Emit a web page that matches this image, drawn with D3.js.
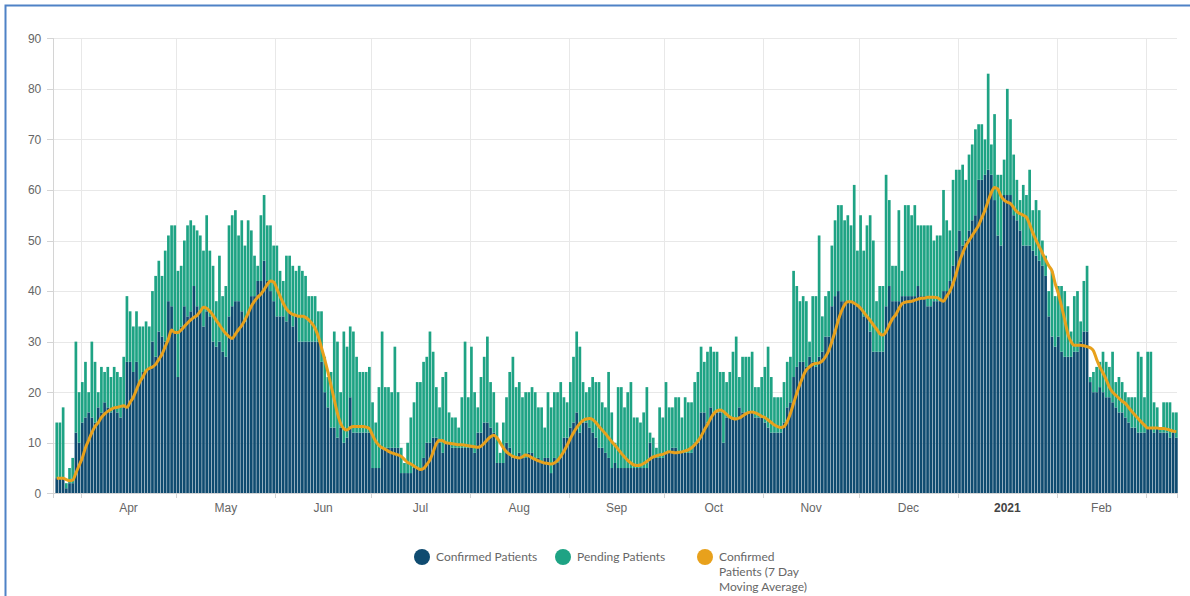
<!DOCTYPE html>
<html>
<head>
<meta charset="utf-8">
<script src="https://cdnjs.cloudflare.com/ajax/libs/d3/7.8.5/d3.min.js"></script>
<style>
  body { margin: 0; background: #fff; }
  svg { display: block; font-family: Lato, "Open Sans", sans-serif; }
  .grid line { stroke: #e8e8e8; shape-rendering: crispEdges; }
  .grid .domain { display: none; }
  .axis text { fill: #666; font-size: 12px; }
  .axis line, .axis path { stroke: #d4d4d4; shape-rendering: crispEdges; }
  .legend text { fill: #666; font-size: 12px; }
</style>
</head>
<body>
<div id="chart"></div>
<script>
// daily values, first day is 24 Mar 2020, one entry per day (one line per month)
const firstDay = new Date(2020, 2, 24);

const confirmed = [
  3,3,3,1,2,2,12,10,
  14,15,16,15,14,17,16,18,17,16,17,16,15,17,26,26,24,26,22,24,24,25,30,27,32,31,30,38,37,32,
  23,33,37,35,36,41,37,36,33,36,35,30,29,30,28,27,35,37,38,38,36,34,36,39,39,42,42,46,42,40,38,
  35,35,35,34,36,33,35,30,30,30,30,30,30,30,26,20,17,13,13,11,13,10,11,19,12,12,12,12,12,12,
  5,5,5,9,9,9,9,9,9,4,4,4,4,5,5,5,7,10,10,11,11,10,8,10,10,9,9,9,9,9,9,
  9,8,12,12,14,14,13,12,6,6,6,10,9,7,7,8,7,7,8,8,7,7,6,7,7,4,7,6,7,11,11,
  13,14,16,12,14,14,13,12,11,9,9,8,7,5,6,5,5,5,5,5,5,5,5,5,5,10,7,7,7,7,
  8,8,9,9,8,8,8,8,8,10,10,16,16,14,17,16,16,16,10,15,15,15,15,17,16,16,16,16,15,15,15,
  14,13,12,12,12,12,14,17,18,23,25,26,26,25,27,26,25,27,28,31,31,37,39,40,38,38,38,38,38,37,
  37,35,35,32,28,28,28,28,37,41,38,38,38,39,39,39,39,39,41,39,39,37,37,38,38,38,40,40,42,45,48,
  52,49,50,52,54,55,62,62,63,64,63,58,51,49,59,59,59,55,54,52,49,49,49,48,47,46,45,43,35,31,29,
  31,28,27,27,27,28,28,30,32,32,22,20,20,21,20,19,19,18,17,16,16,15,14,13,13,12,12,12,
  13,13,12,13,12,12,12,11,12,11
];

const pending = [
  11,11,14,1,3,5,18,10,
  8,11,4,15,12,3,9,6,8,7,8,8,8,10,13,10,9,10,11,9,10,8,10,16,14,12,18,13,16,21,
  21,12,13,18,18,12,15,15,15,19,13,15,9,17,11,14,18,18,18,13,18,15,18,13,8,3,13,13,11,13,11,
  14,9,7,13,11,12,9,15,14,13,9,9,9,6,10,7,6,11,19,19,7,22,18,14,20,15,12,12,12,13,
  13,9,16,23,12,12,11,20,11,5,2,6,11,13,17,17,19,17,22,17,10,7,15,14,6,6,6,4,10,21,10,
  20,12,5,11,13,17,9,8,8,2,8,9,15,20,14,14,12,13,12,13,13,10,11,6,13,13,13,14,15,8,7,
  9,13,16,17,8,6,8,11,11,13,9,9,17,11,4,16,16,12,15,17,10,10,9,11,16,2,4,2,10,8,
  14,9,8,10,11,7,11,10,10,12,14,13,10,14,12,12,12,8,14,7,9,13,16,6,11,11,11,12,6,6,8,
  11,16,11,7,7,7,8,9,9,21,16,12,13,13,3,13,14,24,7,8,9,12,15,17,19,16,17,15,23,11,
  18,13,18,23,22,10,13,13,26,17,7,7,18,5,18,18,16,18,12,14,14,16,16,12,13,13,20,14,10,17,16,
  12,16,12,15,15,17,11,11,7,19,6,17,12,14,7,21,15,12,8,6,12,10,15,8,11,10,5,4,5,13,10,
  10,13,13,10,5,11,12,4,10,13,1,4,5,5,8,7,6,10,5,7,6,5,5,6,6,16,15,7,
  15,15,6,4,1,6,6,7,4,5
];

const movingAverage = [
  3,3,3,2.7,2.5,2.6,4,5.5,
  7,9,10.5,12,13.2,14,15,15.7,16.2,16.6,16.9,17,17.2,17.3,17,18,19,20.5,22,23,24.2,24.7,25,25.5,26.5,27.5,29,30.5,32.3,31.8,
  31.8,32.3,33,33.7,34.3,34.8,35.2,36,36.8,36.6,36,35.2,34.2,33.3,32.4,31.6,31,30.6,31.5,32.4,33.2,34.3,35.6,37,38,38.8,39.4,40.3,41.3,42,41.8,
  40.5,39,37.6,36.5,35.8,35.4,35.2,35,35,34.8,34.3,33.6,32.6,31,28.8,26.5,24,21.3,18.5,15.8,13.8,12.8,12.5,13,13.2,13.2,13.2,13.2,13.1,12.8,
  11.5,10.3,9.5,9,8.7,8.3,8,7.8,7.6,7.3,6.7,6.1,5.8,5.4,5,4.7,4.9,5.7,6.6,8.2,9.8,10.5,10.4,10,9.9,9.8,9.7,9.6,9.6,9.5,9.4,
  9.3,9.2,9.1,9.3,9.9,10.6,11.2,11.5,11,10,9,8.2,7.7,7.3,7.1,7,7.2,7.6,7.4,7,6.7,6.4,6.2,6,5.9,5.8,6,6.5,7.3,8.3,9.5,
  10.8,12,13,13.8,14.4,14.7,14.8,14.6,14,13.2,12.5,11.8,11,10.2,9.5,8.7,7.9,7.2,6.5,6,5.6,5.5,5.6,5.9,6.3,6.8,7.2,7.4,7.6,7.7,
  8,8.2,8.1,8,8.1,8.2,8.4,8.6,9,9.6,10.3,11.3,12.5,13.6,14.8,15.8,16.3,16.5,16.2,15.6,15.1,14.8,14.7,14.9,15.3,15.7,16,16.1,15.9,15.6,15.2,
  15,14.5,14,13.5,13.2,13,13.2,14.2,15.8,17.8,19.8,21.6,23.2,24.4,25,25.5,25.7,25.8,26.2,27,28.2,30,32,34.2,36,37.3,37.9,37.9,37.6,37.2,
  36.6,35.8,35,34.2,33.3,32.5,31.6,31.3,32,33.3,34.5,35.3,36.5,37.5,37.8,37.9,38,38.2,38.4,38.6,38.6,38.8,38.8,38.8,38.7,38.3,38,39,40,41.5,43.5,
  45.8,47.5,49,50,51,52,53,54.5,56,57.8,59.5,60.5,60.2,58.8,58,57.6,57.3,56.5,55.7,55.3,55,54.6,53.2,51.5,50.1,48.8,47.5,46.2,45,44,41.5,
  39.5,37,34.3,31.5,30,29.3,29.3,29.3,29.2,29,28.8,28.2,26.5,25,23.8,22.5,21,20,19.4,18.8,18.2,17.8,17,16.2,15.5,14.8,14.1,13.5,
  12.9,12.9,12.9,12.9,12.8,12.8,12.7,12.5,12.3,12.2
];

const yTicks = [0, 10, 20, 30, 40, 50, 60, 70, 80, 90];
const seriesNames = ["Confirmed Patients", "Pending Patients", "Confirmed Patients (7 Day Moving Average)"];

const colors = { confirmed: "#0f4b70", pending: "#1ea384", average: "#e8a11c" };

const width = 1190, height = 596;
const plot = { left: 53.3, right: 1177.3, top: 38.3, bottom: 493.3 };

const days = d3.timeDay.range(firstDay, d3.timeDay.offset(firstDay, confirmed.length));
const rows = days.map((d, i) => ({ date: d, confirmed: confirmed[i], pending: pending[i], avg: movingAverage[i] }));

const svg = d3.select("#chart").append("svg")
    .attr("width", width).attr("height", height);

svg.append("rect").attr("width", width).attr("height", height).attr("fill", "#fff");

// dashboard frame (only the top and left edges are in view)
svg.append("path")
    .attr("d", "M5.5," + height + "V5.5H" + width)
    .attr("fill", "none").attr("stroke", "#4f82c6").attr("stroke-width", 2);

let x = d3.scaleTime()
    .domain([d3.timeHour.offset(firstDay, -14), d3.timeHour.offset(days[days.length - 1], 19)])
    .range([plot.left, plot.right]);
let y = d3.scaleLinear().domain([0, 90]).range([plot.bottom, plot.top]);

let monthStarts = d3.timeMonth.range(d3.timeMonth.ceil(x.domain()[0]), x.domain()[1]);

// horizontal grid
svg.append("g")
    .attr("class", "grid")
    .attr("transform", "translate(" + plot.left + ",0)")
    .call(d3.axisLeft(y).tickValues(yTicks).tickSize(-(plot.right - plot.left)).tickFormat(""));

// vertical grid at month starts
svg.append("g")
    .attr("class", "grid")
    .selectAll("line")
    .data(monthStarts)
    .enter().append("line")
    .attr("x1", d => Math.round(x(d)) + 0.5).attr("x2", d => Math.round(x(d)) + 0.5)
    .attr("y1", plot.top).attr("y2", plot.bottom);

// stacked bars
let stack = d3.stack().keys(["confirmed", "pending"]);
let layers = stack(rows);
let dayWidth = x(d3.timeDay.offset(firstDay, 1)) - x(firstDay);

svg.append("g")
    .selectAll("g")
    .data(layers)
    .enter().append("g")
    .attr("fill", d => colors[d.key])
    .selectAll("rect")
    .data(d => d)
    .enter().append("rect")
    .attr("x", d => x(d.data.date) + 0.25)
    .attr("y", d => y(d[1]))
    .attr("width", dayWidth - 0.5)
    .attr("height", d => y(d[0]) - y(d[1]));

// 7 day average line
let line = d3.line()
    .x(d => x(d.date) + dayWidth / 2)
    .y(d => y(d.avg))
    .curve(d3.curveMonotoneX);

svg.append("path")
    .datum(rows)
    .attr("fill", "none")
    .attr("stroke", colors.average)
    .attr("stroke-width", 3)
    .attr("stroke-linejoin", "round")
    .attr("d", line);

// y axis
svg.append("g")
    .attr("class", "axis")
    .attr("transform", "translate(" + plot.left + ",0)")
    .call(d3.axisLeft(y).tickValues(yTicks).tickSize(6).tickPadding(6));

// x axis: ticks at month starts, labels centred in the month
let xAxis = svg.append("g")
    .attr("class", "axis")
    .attr("transform", "translate(0," + plot.bottom + ")");
xAxis.call(d3.axisBottom(x).tickValues(monthStarts).tickSize(5).tickFormat(""));
xAxis.select(".domain").attr("stroke", "#bbb");

let labelMonths = monthStarts.filter(d => {
    let mid = (x(d) + x(d3.timeMonth.offset(d, 1))) / 2;
    return mid > plot.left && mid < plot.right;
});

xAxis.selectAll(".month-label")
    .data(labelMonths)
    .enter().append("text")
    .attr("class", "month-label")
    .attr("x", d => (x(d) + x(d3.timeMonth.offset(d, 1))) / 2)
    .attr("y", 19)
    .attr("text-anchor", "middle")
    .style("font-weight", d => d.getMonth() === 0 ? "bold" : "normal")
    .style("fill", d => d.getMonth() === 0 ? "#444" : "#666")
    .text(d => d.getMonth() === 0 ? d3.timeFormat("%Y")(d) : d3.timeFormat("%b")(d));

// legend
let legend = svg.append("g").attr("class", "legend");
let legendItems = [
    { name: seriesNames[0], color: colors.confirmed, x: 422, lines: ["Confirmed Patients"] },
    { name: seriesNames[1], color: colors.pending, x: 563, lines: ["Pending Patients"] },
    { name: seriesNames[2], color: colors.average, x: 705, lines: ["Confirmed", "Patients (7 Day", "Moving Average)"] }
];

let item = legend.selectAll("g")
    .data(legendItems)
    .enter().append("g")
    .attr("transform", d => "translate(" + d.x + ",557)");

item.append("circle").attr("r", 8).attr("fill", d => d.color);

item.append("text")
    .attr("x", 14)
    .attr("y", 4)
    .selectAll("tspan")
    .data(d => d.lines)
    .enter().append("tspan")
    .attr("x", 14)
    .attr("dy", (d, i) => i === 0 ? 0 : 15)
    .text(d => d);
</script>
</body>
</html>
